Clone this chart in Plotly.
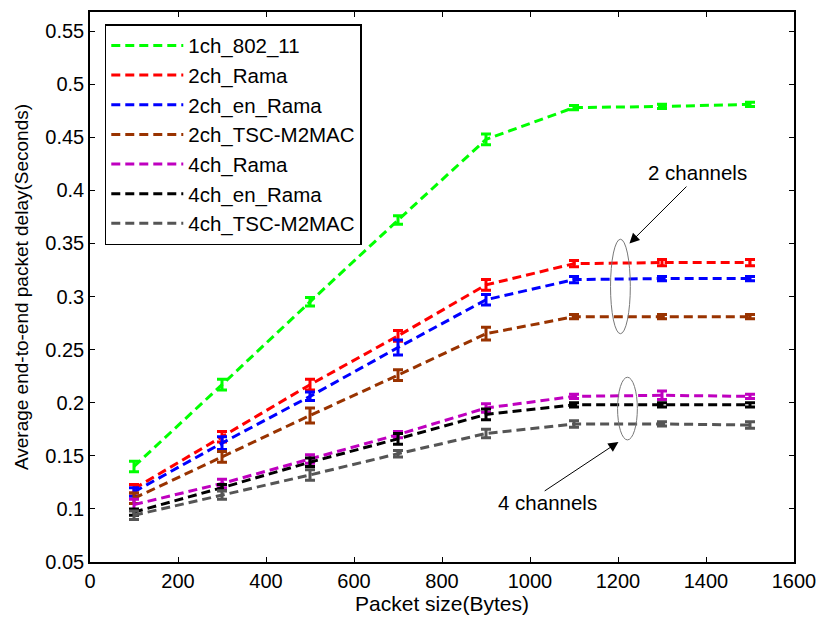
import plotly.graph_objects as go

packet_size = [100, 300, 500, 700, 900, 1100, 1300, 1500]

series_names = ["1ch_802_11", "2ch_Rama", "2ch_en_Rama", "2ch_TSC-M2MAC",
                "4ch_Rama", "4ch_en_Rama", "4ch_TSC-M2MAC"]
series_colors = ["#00FF00", "#FF0000", "#0000FF", "#993300",
                 "#BF00BF", "#000000", "#555555"]

ch1_802_11 = [0.140, 0.217, 0.295, 0.372, 0.448, 0.478, 0.479, 0.481]
ch2_rama = [0.119, 0.168, 0.217, 0.263, 0.311, 0.331, 0.332, 0.332]
ch2_en_rama = [0.116, 0.162, 0.206, 0.252, 0.297, 0.316, 0.317, 0.317]
ch2_tsc = [0.110, 0.149, 0.188, 0.226, 0.265, 0.281, 0.281, 0.281]
ch4_rama = [0.104, 0.124, 0.147, 0.170, 0.195, 0.206, 0.207, 0.206]
ch4_en_rama = [0.097, 0.120, 0.144, 0.166, 0.189, 0.198, 0.198, 0.198]
ch4_tsc = [0.094, 0.113, 0.132, 0.152, 0.171, 0.180, 0.180, 0.179]

err_1ch = [0.005, 0.005, 0.004, 0.004, 0.005, 0.002, 0.002, 0.002]
err_2ch_rama = [0.004, 0.005, 0.005, 0.005, 0.005, 0.003, 0.003, 0.003]
err_2ch_en = [0.004, 0.006, 0.004, 0.007, 0.005, 0.003, 0.002, 0.002]
err_2ch_tsc = [0.005, 0.005, 0.007, 0.005, 0.006, 0.002, 0.002, 0.002]
err_4ch_rama = [0.005, 0.004, 0.004, 0.003, 0.004, 0.002, 0.004, 0.002]
err_4ch_en = [0.003, 0.003, 0.004, 0.005, 0.005, 0.002, 0.002, 0.002]
err_4ch_tsc = [0.004, 0.004, 0.005, 0.003, 0.004, 0.003, 0.002, 0.003]

series_values = [ch1_802_11, ch2_rama, ch2_en_rama, ch2_tsc, ch4_rama, ch4_en_rama, ch4_tsc]
series_errors = [err_1ch, err_2ch_rama, err_2ch_en, err_2ch_tsc, err_4ch_rama, err_4ch_en, err_4ch_tsc]

x_ticks = [0, 200, 400, 600, 800, 1000, 1200, 1400, 1600]
y_ticks = [0.05, 0.1, 0.15, 0.2, 0.25, 0.3, 0.35, 0.4, 0.45, 0.5, 0.55]
y_tick_text = ["0.05", "0.1", "0.15", "0.2", "0.25", "0.3", "0.35", "0.4", "0.45", "0.5", "0.55"]

# annotation ellipses (x0, x1, y0, y1) in data units
ellipse_2ch = [1183, 1228, 0.265, 0.354]
ellipse_4ch = [1199, 1244, 0.165, 0.224]
label_2ch = {"text": "2 channels", "x": 1381, "y": 0.417, "head": (1226, 0.350), "tail": (1359, 0.405)}
label_4ch = {"text": "4 channels", "x": 1040, "y": 0.106, "head": (1201, 0.163), "tail": (1030, 0.116)}

FONT = "Liberation Sans, Arial, sans-serif"
FS = 20

fig = go.Figure()
for name, color, vals, errs in zip(series_names, series_colors, series_values, series_errors):
    fig.add_trace(go.Scatter(
        x=packet_size, y=vals, name=name, mode="lines",
        line=dict(color=color, width=3, dash="9px,5px"),
        error_y=dict(type="data", array=errs, visible=True, color=color, thickness=3, width=5),
    ))

for e in (ellipse_2ch, ellipse_4ch):
    fig.add_shape(type="circle", xref="x", yref="y", x0=e[0], x1=e[1], y0=e[2], y1=e[3],
                  line=dict(color="#777777", width=1))

for lab in (label_2ch, label_4ch):
    fig.add_annotation(x=lab["head"][0], y=lab["head"][1], ax=lab["tail"][0], ay=lab["tail"][1],
                       xref="x", yref="y", axref="x", ayref="y", text="", showarrow=True,
                       arrowhead=2, arrowsize=2, arrowwidth=1, arrowcolor="#000000")
    fig.add_annotation(x=lab["x"], y=lab["y"], xref="x", yref="y", text=lab["text"], showarrow=False,
                       font=dict(family=FONT, size=20.5, color="#000000"))

fig.update_layout(
    width=826, height=622,
    margin=dict(l=90, r=26, t=10, b=60),
    paper_bgcolor="white", plot_bgcolor="white",
    font=dict(family=FONT, size=FS, color="#000000"),
    showlegend=True,
    legend=dict(x=0.021, y=0.978, xanchor="left", yanchor="top",
                bordercolor="#000000", borderwidth=1.5, bgcolor="white",
                font=dict(family=FONT, size=20.5), itemwidth=72, tracegroupgap=0),
    xaxis=dict(range=[0, 1600], tickvals=x_ticks, showgrid=False, zeroline=False,
               showline=True, linecolor="#000000", linewidth=1.5, mirror="ticks",
               ticks="inside", ticklen=5, tickcolor="#000000",
               title=dict(text="Packet size(Bytes)", standoff=6, font=dict(size=21)),
               tickfont=dict(size=FS)),
    yaxis=dict(range=[0.05, 0.568], tickvals=y_ticks, ticktext=y_tick_text, showgrid=False, zeroline=False,
               showline=True, linecolor="#000000", linewidth=1.5, mirror="ticks",
               ticks="inside", ticklen=5, tickcolor="#000000",
               title=dict(text="Average end-to-end packet delay(Seconds)", standoff=12, font=dict(size=19)),
               tickfont=dict(size=FS)),
)

fig.write_html("out.html", config={"displayModeBar": False},
               post_script="document.body.style.margin='0';document.body.style.overflow='hidden';")
